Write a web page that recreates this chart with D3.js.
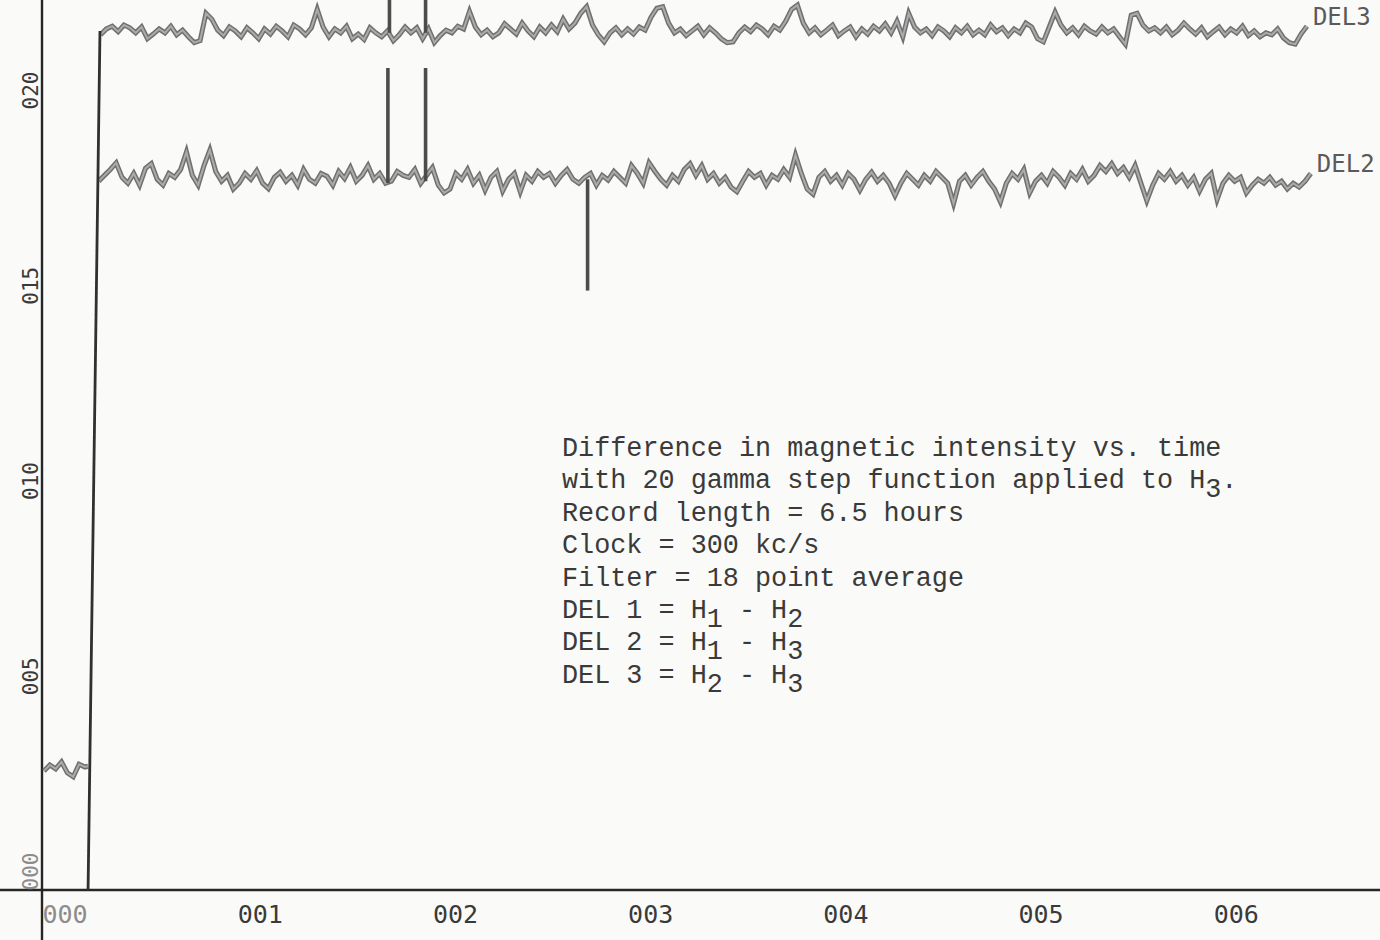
<!DOCTYPE html>
<html>
<head>
<meta charset="utf-8">
<script src="https://cdn.jsdelivr.net/npm/d3@7"></script>
<style>
  body { margin: 0; background: #fafaf8; }
  svg { display: block; }
</style>
</head>
<body>
<div class="chart"></div>
<script>
// tick values (time in hours, difference in gamma)
const xTicks = [0, 1, 2, 3, 4, 5, 6];
const yTicks = [0, 5, 10, 15, 20];

// traces are sampled every 0.03 h
const sampleStep = 0.03;
const del3Start = 0.30;
const del2Start = 0.29;

const del3Values = [
  21.90, 22.05, 22.12, 21.98, 22.15, 22.08, 21.95, 22.10, 21.80, 21.92,
  22.05, 21.95, 22.12, 21.90, 22.02, 21.85, 21.70, 21.75, 22.45, 22.30,
  22.02, 21.88, 22.10, 22.00, 21.85, 22.08, 21.95, 21.80, 22.05, 21.92,
  22.12, 22.00, 21.85, 22.15, 22.05, 21.90, 22.08, 22.55, 22.10, 21.85,
  22.05, 21.95, 22.12, 21.80, 21.92, 21.78, 22.08, 21.95, 21.85, 22.00,
  21.75, 21.90, 22.10, 21.95, 22.08, 21.80, 22.05, 21.70, 21.88, 22.02,
  21.95, 22.12, 22.05, 22.50, 22.10, 21.90, 22.02, 21.85, 21.95, 22.18,
  22.05, 21.92, 22.20, 22.00, 21.85, 22.10, 21.95, 22.15, 21.98, 22.30,
  22.05, 22.20, 22.45, 22.62, 22.15, 21.90, 21.72, 21.95, 22.08, 21.90,
  22.05, 21.92, 22.10, 22.02, 22.35, 22.58, 22.62, 22.20, 21.95, 22.05,
  21.88, 22.00, 22.12, 21.90, 22.08, 21.95, 21.80, 21.70, 21.72, 21.95,
  22.10, 21.98, 22.15, 22.05, 21.90, 22.12, 22.02, 22.25, 22.55, 22.66,
  22.20, 21.95, 22.08, 21.90, 22.02, 22.15, 21.88, 22.00, 22.10, 21.85,
  22.05, 21.92, 22.12, 22.00, 22.18, 21.95, 22.25, 21.85, 22.45, 22.10,
  21.95, 22.05, 21.88, 22.10, 22.00, 21.85, 22.08, 21.95, 22.12, 21.90,
  22.02, 21.90, 22.15, 21.98, 22.08, 21.88, 22.05, 21.95, 22.20, 22.10,
  21.80, 21.72, 22.10, 22.48, 22.15, 21.95, 22.08, 21.90, 22.12, 22.00,
  21.92, 22.10, 21.95, 22.05, 21.85, 21.66, 22.40, 22.45, 22.15, 22.00,
  22.08, 21.95, 22.10, 21.90, 22.02, 22.20, 22.05, 21.92, 22.08, 21.85,
  21.98, 22.10, 21.90, 22.05, 21.95, 22.12, 21.88, 22.00, 21.85, 21.95,
  21.90, 22.05, 21.82, 21.70, 21.66, 21.92, 22.12
];

const del2Values = [
  18.15, 18.30, 18.45, 18.62, 18.25, 18.10, 18.35, 18.05, 18.48, 18.60,
  18.20, 18.05, 18.35, 18.25, 18.45, 18.90, 18.30, 18.05, 18.55, 18.95,
  18.40, 18.15, 18.30, 17.95, 18.10, 18.35, 18.20, 18.42, 18.10, 17.96,
  18.25, 18.38, 18.15, 18.30, 18.05, 18.45, 18.20, 18.10, 18.35, 18.28,
  18.05, 18.40, 18.22, 18.50, 18.15, 18.30, 18.55, 18.20, 18.35, 18.10,
  18.15, 18.40, 18.30, 18.25, 18.45, 18.10, 18.30, 18.50, 18.05, 17.85,
  17.95, 18.35, 18.20, 18.45, 18.10, 18.30, 17.92, 18.25, 18.40, 17.90,
  18.20, 18.35, 17.88, 18.30, 18.15, 18.40, 18.25, 18.35, 18.10, 18.30,
  18.45, 18.20, 18.10, 18.25, 18.35, 18.05, 18.30, 18.18, 18.40, 18.25,
  18.10, 18.55, 18.35, 18.10, 18.62, 18.40, 18.20, 18.05, 18.30, 18.15,
  18.45, 18.60, 18.30, 18.55, 18.20, 18.35, 18.10, 18.25, 18.00, 17.88,
  18.15, 18.40, 18.25, 18.35, 18.05, 18.30, 18.20, 18.45, 18.25, 18.82,
  18.35, 17.95, 17.82, 18.25, 18.40, 18.15, 18.30, 18.05, 18.35, 18.20,
  17.92, 18.20, 18.38, 18.15, 18.30, 18.10, 17.78, 18.10, 18.35, 18.20,
  18.05, 18.30, 18.15, 18.40, 18.25, 18.10, 17.58, 18.15, 18.30, 18.05,
  18.25, 18.40, 18.15, 17.95, 17.62, 18.10, 18.35, 18.20, 18.45, 17.85,
  18.15, 18.30, 18.10, 18.40, 18.25, 18.05, 18.35, 18.20, 18.45, 18.15,
  18.30, 18.55, 18.40, 18.60, 18.35, 18.50, 18.25, 18.55, 18.10, 17.65,
  18.05, 18.35, 18.20, 18.40, 18.15, 18.30, 18.05, 18.25, 17.90, 18.20,
  18.35, 17.68, 18.10, 18.30, 18.15, 18.25, 17.85, 18.05, 18.20, 18.10,
  18.25, 18.05, 18.15, 17.95, 18.10, 18.00, 18.15, 18.35
];

// short piece before the step
const del1Times = [0.01, 0.04, 0.07, 0.10, 0.13, 0.16, 0.19, 0.22, 0.236];
const del1Values = [3.05, 3.20, 3.10, 3.28, 3.00, 2.90, 3.22, 3.15, 3.17];

// the step riser
const riserTimes = [0.236, 0.297];
const riserValues = [0, 22.0];

// spikes
const del3SpikeTimes = [1.78, 1.965];
const del3SpikeBase = [21.95, 21.95];
const del3SpikePeak = [23.4, 23.4];
const del2SpikeTimes = [1.772, 1.965, 2.795];
const del2SpikeBase = [18.10, 18.15, 18.20];
const del2SpikePeak = [21.05, 21.05, 15.35];

const seriesNames = ["DEL3", "DEL2"];

const noteLines = [
  [["Difference in magnetic intensity vs. time", false]],
  [["with 20 gamma step function applied to H", false], ["3", true], [".", false]],
  [["Record length = 6.5 hours", false]],
  [["Clock = 300 kc/s", false]],
  [["Filter = 18 point average", false]],
  [["DEL 1 = H", false], ["1", true], [" - H", false], ["2", true]],
  [["DEL 2 = H", false], ["1", true], [" - H", false], ["3", true]],
  [["DEL 3 = H", false], ["2", true], [" - H", false], ["3", true]]
];

const width = 1380, height = 940;
const margin = {left: 42, bottom: 50};

const svg = d3.select(".chart").append("svg")
  .attr("width", width)
  .attr("height", height);

svg.append("rect").attr("width", width).attr("height", height).attr("fill", "#fafaf8");

const x = d3.scaleLinear()
  .domain([0, (width - margin.left) / 195.2])
  .range([margin.left, width]);

const y = d3.scaleLinear()
  .domain([0, (height - margin.bottom) / 39.05])
  .range([height - margin.bottom, 0]);

// axes: lines run past the plot area like on the plotter sheet
svg.append("line")
  .attr("x1", x(0)).attr("x2", x(0))
  .attr("y1", 0).attr("y2", height)
  .attr("stroke", "#262626").attr("stroke-width", 2.4);

svg.append("line")
  .attr("x1", 0).attr("x2", width)
  .attr("y1", y(0)).attr("y2", y(0))
  .attr("stroke", "#262626").attr("stroke-width", 2.6);

const fmt = d3.format("03d");

const xAxis = svg.append("g")
  .attr("transform", "translate(0," + y(0) + ")")
  .call(d3.axisBottom(x).tickValues(xTicks).tickSize(0).tickFormat(fmt));
xAxis.select(".domain").remove();
xAxis.selectAll("text")
  .attr("y", 33).attr("dy", 0)
  .attr("text-anchor", "start")
  .attr("font-family", "DejaVu Sans Mono")
  .attr("font-size", 25)
  .attr("fill", (d, i) => i == 0 ? "#8c8c8c" : "#3a3a3a");

const yAxis = svg.append("g")
  .attr("transform", "translate(" + x(0) + ",0)")
  .call(d3.axisLeft(y).tickValues(yTicks).tickSize(0).tickFormat(fmt));
yAxis.select(".domain").remove();
yAxis.selectAll("text")
  .attr("x", 0).attr("dy", 0)
  .attr("text-anchor", "start")
  .attr("transform", "translate(-4,0) rotate(-90)")
  .attr("font-family", "DejaVu Sans Mono")
  .attr("font-size", 21)
  .attr("fill", (d, i) => i == 0 ? "#8c8c8c" : "#3a3a3a");

// build trace points
const toPoints = (start, vals) => vals.map((v, i) => ({t: start + i * sampleStep, v: v}));
const traces = [toPoints(del3Start, del3Values), toPoints(del2Start, del2Values)];
const del1 = del1Times.map((t, i) => ({t: t, v: del1Values[i]}));

const line = d3.line().x(d => x(d.t)).y(d => y(d.v));

const traceGroup = svg.append("g");

function drawTrace(pts) {
  traceGroup.append("path")
    .attr("d", line(pts))
    .attr("fill", "none")
    .attr("stroke", "#707070")
    .attr("stroke-width", 5)
    .attr("stroke-linejoin", "miter");
  traceGroup.append("path")
    .attr("d", line(pts))
    .attr("fill", "none")
    .attr("stroke", "#ababab")
    .attr("stroke-width", 2);
}

traces.forEach(drawTrace);
drawTrace(del1);

// riser of the step
svg.append("path")
  .attr("d", line(riserTimes.map((t, i) => ({t: t, v: riserValues[i]}))))
  .attr("stroke", "#303030")
  .attr("stroke-width", 2.8)
  .attr("fill", "none");

// spikes
function drawSpikes(times, base, peak) {
  times.forEach((t, i) => {
    svg.append("line")
      .attr("x1", x(t)).attr("x2", x(t))
      .attr("y1", y(base[i])).attr("y2", y(peak[i]))
      .attr("stroke", "#4c4c4c")
      .attr("stroke-width", 3.6);
  });
}
drawSpikes(del3SpikeTimes, del3SpikeBase, del3SpikePeak);
drawSpikes(del2SpikeTimes, del2SpikeBase, del2SpikePeak);

// series labels at the end of each trace
traces.forEach((pts, k) => {
  const last = pts[pts.length - 1];
  svg.append("text")
    .attr("x", x(last.t) + 6)
    .attr("y", y(last.v) - 1)
    .attr("font-family", "DejaVu Sans Mono")
    .attr("font-size", 24)
    .attr("fill", "#5a5a5a")
    .text(seriesNames[k]);
});

// typed note
const note = svg.append("text")
  .attr("font-family", "Liberation Mono")
  .attr("font-size", 26.8)
  .attr("fill", "#3a3a3a");

const subShift = 9;
noteLines.forEach((parts, li) => {
  let shift = 0;
  parts.forEach((p, pi) => {
    const ts = note.append("tspan").text(p[0]);
    const want = p[1] ? subShift : 0;
    if (pi == 0) {
      ts.attr("x", 562).attr("y", 456 + li * 32.4 + want);
    } else {
      ts.attr("dy", want - shift);
    }
    shift = want;
  });
});
</script>
</body>
</html>
